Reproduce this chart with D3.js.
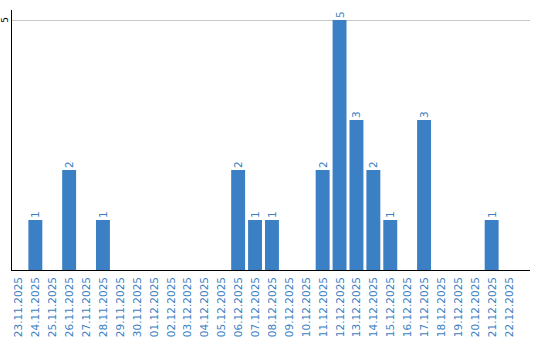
<!DOCTYPE html>
<html>
<head>
<meta charset="utf-8">
<script src="https://cdn.jsdelivr.net/npm/d3@7"></script>
<style>
  body { margin: 0; background: #fff; }
  text { font-family: "DejaVu Sans", Verdana, sans-serif; }
</style>
</head>
<body>
<div id="chart"></div>
<script>
// dates (axe X)
const dates = ['23.11.2025','24.11.2025','25.11.2025','26.11.2025','27.11.2025','28.11.2025',
  '29.11.2025','30.11.2025','01.12.2025','02.12.2025','03.12.2025','04.12.2025','05.12.2025',
  '06.12.2025','07.12.2025','08.12.2025','09.12.2025','10.12.2025','11.12.2025','12.12.2025',
  '13.12.2025','14.12.2025','15.12.2025','16.12.2025','17.12.2025','18.12.2025','19.12.2025',
  '20.12.2025','21.12.2025','22.12.2025'];
const counts = [0,1,0,2,0,1,0,0,0,0,0,0,0,2,1,1,0,0,2,5,3,2,1,0,3,0,0,0,1,0];
const yTicks = [5];

const width = 540, height = 340;
const blue = '#3b7fc4';

const svg = d3.select('#chart').append('svg')
    .attr('width', width)
    .attr('height', height);

const x = d3.scaleBand()
    .domain(dates)
    .range([8.5, 518.5])
    .padding(3 / 17);

const y = d3.scaleLinear()
    .domain([0, 5])
    .range([270, 20]);

// grille
svg.selectAll('line.grid')
    .data(yTicks)
    .enter()
    .append('line')
    .attr('class', 'grid')
    .attr('x1', 11).attr('x2', 530)
    .attr('y1', d => y(d) + 0.5).attr('y2', d => y(d) + 0.5)
    .attr('stroke', '#c8c8c8');

// barres
svg.selectAll('rect.bar')
    .data(dates.map((d, i) => ({ date: d, v: counts[i] })).filter(d => d.v > 0))
    .enter()
    .append('rect')
    .attr('class', 'bar')
    .attr('x', d => x(d.date))
    .attr('y', d => y(d.v))
    .attr('width', x.bandwidth())
    .attr('height', d => y(0) - y(d.v))
    .attr('fill', blue);

// valeurs au-dessus des barres
svg.selectAll('text.val')
    .data(dates.map((d, i) => ({ date: d, v: counts[i] })).filter(d => d.v > 0))
    .enter()
    .append('text')
    .attr('class', 'val')
    .attr('transform', d => `translate(${x(d.date) + x.bandwidth() / 2 + 4},${y(d.v) - 2}) rotate(-90)`)
    .attr('fill', blue)
    .style('font-size', '10.5px')
    .text(d => d.v);

// axes
svg.append('line')
    .attr('x1', 11.5).attr('x2', 11.5)
    .attr('y1', 10).attr('y2', 270)
    .attr('stroke', '#000');
svg.append('line')
    .attr('x1', 11).attr('x2', 530)
    .attr('y1', 270.5).attr('y2', 270.5)
    .attr('stroke', '#000');

// libellé Y
svg.selectAll('text.ytick')
    .data(yTicks)
    .enter()
    .append('text')
    .attr('class', 'ytick')
    .attr('transform', d => `translate(8,${y(d)}) rotate(-90)`)
    .attr('text-anchor', 'middle')
    .attr('fill', '#000')
    .style('font-size', '9px')
    .text(d => d);

// libellés X
svg.selectAll('text.xlab')
    .data(dates)
    .enter()
    .append('text')
    .attr('class', 'xlab')
    .attr('transform', d => `translate(${x(d) + x.bandwidth() / 2 + 4},277) rotate(-90)`)
    .attr('text-anchor', 'end')
    .attr('fill', blue)
    .style('font-size', '10.5px')
    .text(d => d);
</script>
</body>
</html>
